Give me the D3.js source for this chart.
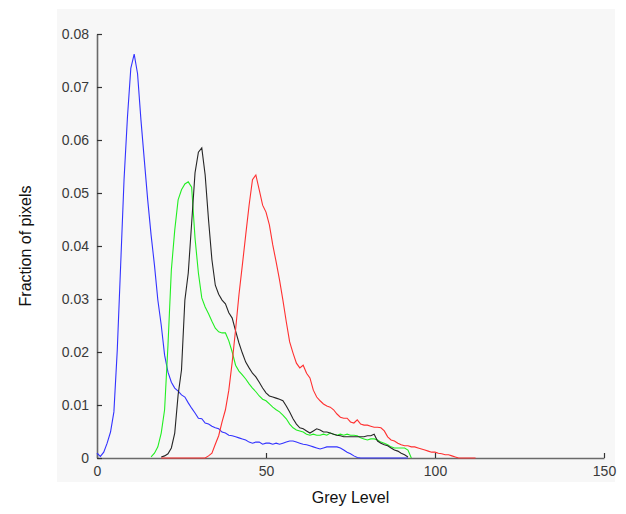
<!DOCTYPE html>
<html>
<head>
<meta charset="utf-8">
<script src="https://cdn.jsdelivr.net/npm/d3@7"></script>
<style>
	body { margin: 0; background: #fff; }
	svg { display: block; font-family: 'Liberation Sans', Arial, sans-serif; }
</style>
</head>
<body>
<div id="chart"></div>
<script>

// grey level histograms, one value per grey level starting at *Start
var blueStart = 0;
var blue = [0.0009, 0.0003, 0.0011, 0.0028, 0.0049, 0.0087, 0.0204, 0.0364, 0.0525, 0.0642,
	0.0735, 0.0762, 0.0725, 0.0638, 0.0562, 0.0487, 0.0421, 0.0364, 0.0298, 0.0251,
	0.0194, 0.0162, 0.0143, 0.0132, 0.0126, 0.0119, 0.0115, 0.0104, 0.0094, 0.0085,
	0.0075, 0.0074, 0.0066, 0.0064, 0.0060, 0.0057, 0.0055, 0.0049, 0.0047, 0.0043,
	0.0042, 0.0040, 0.0038, 0.0036, 0.0034, 0.0030, 0.0028, 0.0030, 0.0030, 0.0026,
	0.0028, 0.0028, 0.0026, 0.0028, 0.0026, 0.0028, 0.0030, 0.0032, 0.0032, 0.0030,
	0.0028, 0.0026, 0.0025, 0.0023, 0.0021, 0.0019, 0.0017, 0.0019, 0.0021, 0.0021,
	0.0021, 0.0021, 0.0019, 0.0015, 0.0011, 0.0008, 0.0004, 0.0001, 0, 0,
	0, 0, 0, 0, 0, 0, 0, 0, 0, 0, 0, 0, 0];

var greenStart = 16;
var green = [0.0002, 0.0009, 0.0021, 0.0047, 0.0091, 0.0213, 0.0355, 0.0430, 0.0487, 0.0506,
	0.0517, 0.0521, 0.0511, 0.0415, 0.0349, 0.0302, 0.0285, 0.0272, 0.0258, 0.0245,
	0.0238, 0.0236, 0.0236, 0.0221, 0.0200, 0.0175, 0.0164, 0.0157, 0.0149, 0.0140,
	0.0132, 0.0125, 0.0117, 0.0111, 0.0108, 0.0102, 0.0096, 0.0091, 0.0087, 0.0081,
	0.0074, 0.0064, 0.0057, 0.0053, 0.0051, 0.0049, 0.0045, 0.0043, 0.0045, 0.0043,
	0.0043, 0.0045, 0.0043, 0.0047, 0.0045, 0.0043, 0.0045, 0.0043, 0.0045, 0.0043,
	0.0043, 0.0042, 0.0038, 0.0036, 0.0034, 0.0036, 0.0036, 0.0034, 0.0030, 0.0028,
	0.0025, 0.0021, 0.0019, 0.0019, 0.0019, 0.0019, 0.0015, 0];

var blackStart = 19;
var black = [0.0002, 0.0004, 0.0008, 0.0019, 0.0047, 0.0119, 0.0166, 0.0298, 0.0349, 0.0443,
	0.0538, 0.0577, 0.0585, 0.0534, 0.0449, 0.0374, 0.0326, 0.0309, 0.0298, 0.0291,
	0.0274, 0.0264, 0.0240, 0.0217, 0.0198, 0.0181, 0.0170, 0.0160, 0.0153, 0.0143,
	0.0132, 0.0123, 0.0117, 0.0115, 0.0113, 0.0111, 0.0108, 0.0098, 0.0087, 0.0074,
	0.0064, 0.0057, 0.0055, 0.0051, 0.0047, 0.0051, 0.0055, 0.0053, 0.0049, 0.0049,
	0.0047, 0.0045, 0.0043, 0.0042, 0.0040, 0.0040, 0.0040, 0.0040, 0.0040, 0.0040,
	0.0040, 0.0042, 0.0042, 0.0045, 0.0032, 0.0028, 0.0025, 0.0023, 0.0019, 0.0015,
	0.0013, 0.0009, 0.0006, 0.0002];

var redStart = 19;
var red = [0, 0, 0, 0, 0, 0, 0, 0, 0, 0, 0, 0, 0, 0,
	0.0004, 0.0009, 0.0026, 0.0042, 0.0068, 0.0091, 0.0128, 0.0181, 0.0242, 0.0308,
	0.0364, 0.0421, 0.0477, 0.0525, 0.0534, 0.0506, 0.0477, 0.0464, 0.0440, 0.0402,
	0.0370, 0.0336, 0.0298, 0.0257, 0.0219, 0.0198, 0.0179, 0.0170, 0.0175, 0.0160,
	0.0151, 0.0128, 0.0115, 0.0108, 0.0102, 0.0098, 0.0096, 0.0091, 0.0083, 0.0077,
	0.0075, 0.0075, 0.0068, 0.0066, 0.0072, 0.0064, 0.0062, 0.0062, 0.0060, 0.0058,
	0.0058, 0.0057, 0.0051, 0.0040, 0.0034, 0.0032, 0.0028, 0.0025, 0.0023, 0.0023,
	0.0021, 0.0021, 0.0019, 0.0017, 0.0015, 0.0013, 0.0011, 0.0011, 0.0009, 0.0008,
	0.0006, 0.0006, 0.0004, 0.0002, 0, 0, 0, 0, 0, 0];

var xTicks = [0, 50, 100, 150];
var yTicks = [0, 0.01, 0.02, 0.03, 0.04, 0.05, 0.06, 0.07, 0.08];

var series = [
	{ start: blueStart, values: blue, color: '#3333ff' },
	{ start: greenStart, values: green, color: '#22ee22' },
	{ start: blackStart, values: black, color: '#262626' },
	{ start: redStart, values: red, color: '#ff3030' }
];

var width = 626;
var height = 514;
var margin = { left: 97, right: 22, top: 34, bottom: 56 };

var svg = d3.select('#chart').append('svg')
	.attr('width', width)
	.attr('height', height);

// grey backdrop
svg.append('rect')
	.attr('x', 57)
	.attr('y', 9)
	.attr('width', 558)
	.attr('height', 473)
	.style('fill', '#f7f7f7');

var x = d3.scaleLinear().domain([0, 150]).range([margin.left, width - margin.right]);
var y = d3.scaleLinear().domain([0, 0.08]).range([height - margin.bottom, margin.top]);

var fmt = function(d) { return d === 0 ? '0' : d3.format('.2f')(d); };

var gx = svg.append('g')
	.attr('transform', 'translate(0,' + y(0) + ')')
	.call(d3.axisBottom(x).tickValues(xTicks).tickSizeInner(-5).tickSizeOuter(0).tickPadding(8).tickFormat(d3.format('d')));

var gy = svg.append('g')
	.attr('transform', 'translate(' + x(0) + ',0)')
	.call(d3.axisLeft(y).tickValues(yTicks).tickSizeInner(-5).tickSizeOuter(0).tickPadding(8).tickFormat(fmt));

[gx, gy].forEach(function(g) {
	g.select('.domain').style('stroke', '#6a6a6a').style('stroke-width', 1.6);
	g.selectAll('.tick line').style('stroke', '#333').style('stroke-width', 1.2);
	g.selectAll('.tick text').style('font-size', '14px').style('fill', '#3a3a3a');
});

var line = d3.line()
	.x(function(d) { return x(d[0]); })
	.y(function(d) { return y(d[1]); });

series.forEach(function(s) {
	var pts = s.values.map(function(v, i) { return [s.start + i, v]; });
	svg.append('path')
		.datum(pts)
		.attr('d', line)
		.style('fill', 'none')
		.style('stroke', s.color)
		.style('stroke-width', 1.1);
});

svg.append('text')
	.attr('x', (x(0) + x(150)) / 2)
	.attr('y', 503)
	.attr('text-anchor', 'middle')
	.style('font-size', '16px')
	.style('fill', '#111')
	.text('Grey Level');

svg.append('text')
	.attr('transform', 'translate(31,' + y(0.04) + ') rotate(-90)')
	.attr('text-anchor', 'middle')
	.style('font-size', '16px')
	.style('fill', '#111')
	.text('Fraction of pixels');

</script>
</body>
</html>
